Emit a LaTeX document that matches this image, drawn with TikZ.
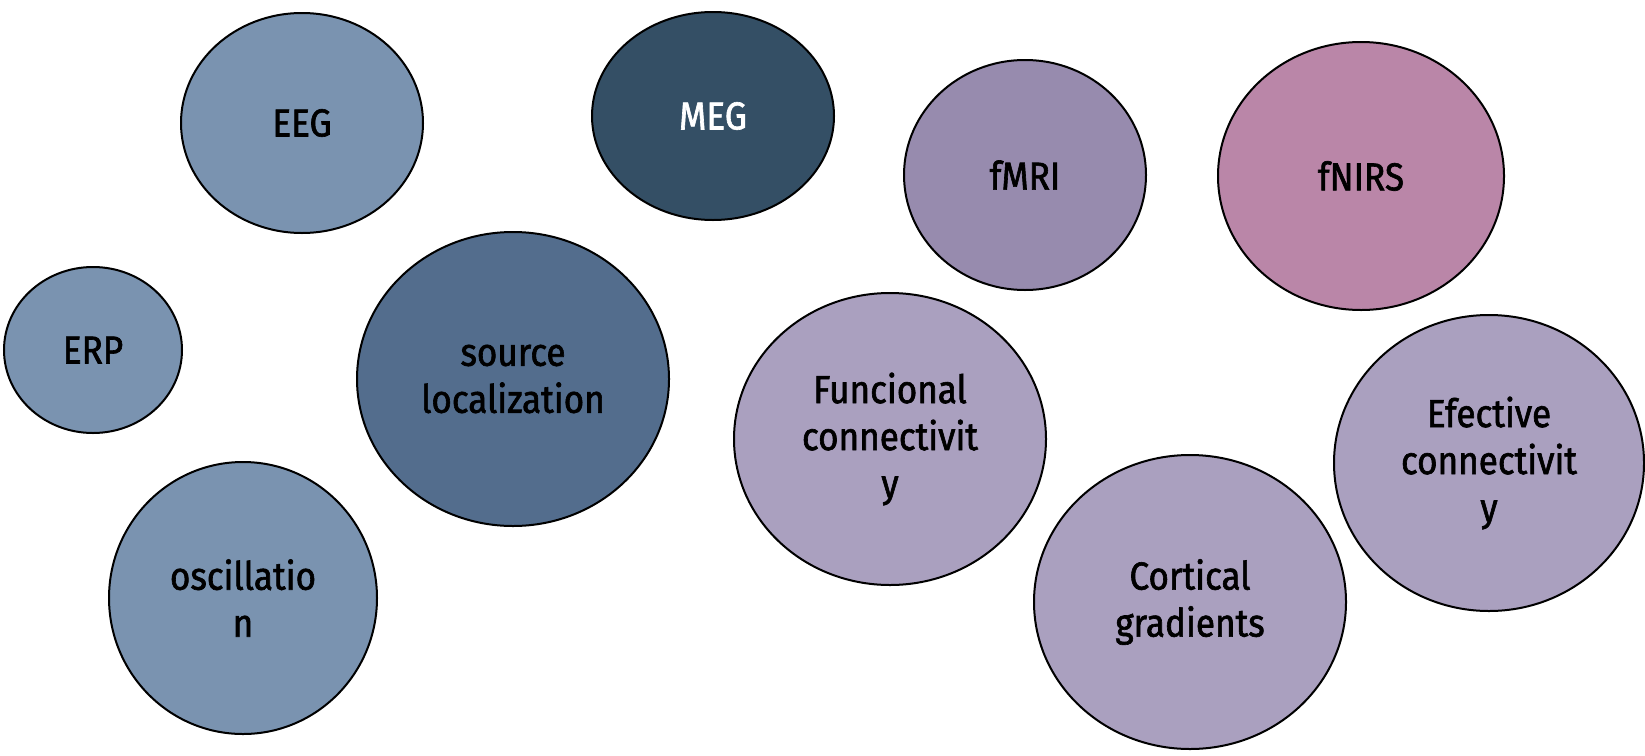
\documentclass[tikz,border=0pt]{standalone}
\usepackage{fontspec}
\newfontfamily\bubblefont[FakeStretch=0.9,FakeBold=1.6]{Fira Sans}
\usetikzlibrary{shapes.geometric}
\definecolor{eegblue}{HTML}{7A93B0}
\definecolor{megnavy}{HTML}{344F65}
\definecolor{srcblue}{HTML}{536D8D}
\definecolor{fmrimauve}{HTML}{978BAE}
\definecolor{nirspink}{HTML}{BA86A8}
\definecolor{lilac}{HTML}{AAA0BF}
\tikzset{
  bubble/.style={ellipse, draw=black, line width=2pt, inner sep=0pt,
    align=center, font=\bubblefont\fontsize{39}{47}\selectfont},
}
\begin{document}
\begin{tikzpicture}[x=1pt,y=-1pt]
\useasboundingbox (0,0) rectangle (1645,755);
% EEG / MEG branch
\node[bubble, fill=eegblue, minimum width=242, minimum height=220] (eeg) at (302,123) {EEG};
\node[bubble, fill=megnavy, text=white, minimum width=242, minimum height=208] (meg) at (713,116) {MEG};
\node[bubble, fill=eegblue, minimum width=178, minimum height=166] (erp) at (93,350) {ERP};
\node[bubble, fill=srcblue, minimum width=312, minimum height=294] (src) at (513,379) {source\\localization};
\node[bubble, fill=eegblue, minimum width=268, minimum height=272] (osc) at (243,598) {oscillatio\\n};
% fMRI / fNIRS branch
\node[bubble, fill=fmrimauve, minimum width=242, minimum height=230] (fmri) at (1025,175) {fMRI};
\node[bubble, fill=nirspink, minimum width=286, minimum height=268] (fnirs) at (1361,176) {fNIRS};
\node[bubble, fill=lilac, minimum width=312, minimum height=292] (fc) at (890,439) {Funcional\\connectivit\\y};
\node[bubble, fill=lilac, minimum width=310, minimum height=296] (ec) at (1489,463) {Efective\\connectivit\\y};
\node[bubble, fill=lilac, minimum width=312, minimum height=294] (cg) at (1190,602) {Cortical\\gradients};
\end{tikzpicture}
\end{document}
